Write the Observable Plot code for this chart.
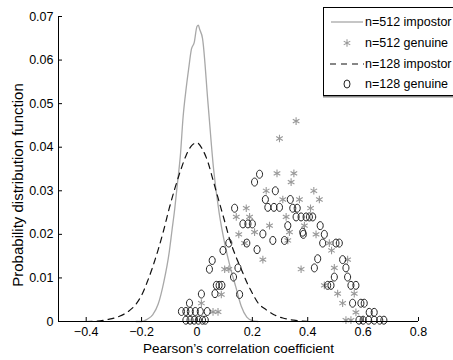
<!DOCTYPE html>
<html>
<head>
<meta charset="utf-8">
<script src="https://cdn.jsdelivr.net/npm/d3@7"></script>
<script src="https://cdn.jsdelivr.net/npm/@observablehq/plot@0.6"></script>
<style>
  html, body { margin: 0; padding: 0; background: #fff; }
  #wrap { position: relative; width: 453px; height: 360px; overflow: hidden; font-family: "Liberation Sans", Arial, Helvetica, sans-serif; }
  #legend { position: absolute; left: 323px; top: 7px; width: 150px; height: 89px; border: 1px solid #000; box-shadow: 0 1.5px 0 #888; background: #fff; box-sizing: border-box; }
  .row { position: absolute; left: 0; height: 18px; display: flex; align-items: center; font-size: 12.5px; color: #000; white-space: nowrap; }
  .row svg { width: 34px; height: 18px; margin-left: 6px; margin-right: 1px; }
</style>
</head>
<body>
<div id="wrap">
  <div id="chart"></div>
  <div id="legend"></div>
</div>
<script>
// ---- data ----
const imp512x = [-0.22,-0.20,-0.18,-0.16,-0.14,-0.12,-0.10,-0.09,-0.08,-0.07,-0.06,-0.05,-0.04,-0.03,-0.02,-0.01,0,0.005,0.01,0.02,0.04,0.06,0.08,0.10,0.12,0.14,0.16,0.18,0.20,0.22];
const imp512y = [0,0,0.0005,0.0015,0.004,0.009,0.016,0.021,0.026,0.032,0.038,0.047,0.053,0.058,0.0625,0.064,0.0677,0.068,0.067,0.065,0.050,0.035,0.025,0.018,0.0125,0.008,0.0035,0.001,0.0002,0];

const imp128x = [-0.40,-0.36,-0.32,-0.28,-0.25,-0.22,-0.20,-0.18,-0.16,-0.14,-0.12,-0.10,-0.08,-0.06,-0.04,-0.02,0,0.02,0.04,0.06,0.08,0.10,0.12,0.14,0.16,0.18,0.20,0.22,0.25,0.28,0.31,0.35,0.40];
const imp128y = [0,0.0001,0.0005,0.0012,0.0022,0.004,0.006,0.009,0.0125,0.0165,0.021,0.026,0.0305,0.0345,0.038,0.0403,0.041,0.0395,0.0365,0.032,0.0275,0.023,0.0185,0.015,0.012,0.009,0.0065,0.0043,0.0027,0.0015,0.0008,0.0003,0];

const gen512x = [0.358,0.298,0.289,0.350,0.340,0.250,0.422,0.310,0.370,0.442,0.178,0.410,0.142,0.190,0.322,0.262,0.388,0.151,0.208,0.334,0.430,0.172,0.328,0.478,0.486,0.238,0.544,0.100,0.115,0.376,0.496,0.460,0.088,0.508,0.568,0.016,0.526,0.058,0.076,0.574,0.538,0.556];
const gen512y = [0.046,0.042,0.034,0.034,0.032,0.030,0.030,0.028,0.028,0.028,0.026,0.026,0.024,0.024,0.024,0.022,0.022,0.020,0.0205,0.0205,0.020,0.018,0.0186,0.018,0.0163,0.0142,0.0142,0.012,0.012,0.012,0.0123,0.0083,0.0062,0.0064,0.0064,0.0042,0.0042,0.0022,0.0022,0.0021,0.0003,0.0003];

const gen128x = [-0.040,-0.025,-0.010,0.005,0.020,0.030,-0.056,-0.040,-0.024,-0.006,0.012,0.037,-0.027,0.016,0.065,0.154,0.070,0.080,0.090,0.132,0.045,0.148,0.055,0.094,0.217,0.115,0.180,0.166,0.184,0.200,0.238,0.274,0.316,0.382,0.136,0.256,0.278,0.298,0.346,0.362,0.247,0.337,0.283,0.208,0.226,0.358,0.376,0.394,0.406,0.418,0.328,0.445,0.384,0.460,0.454,0.502,0.514,0.436,0.526,0.424,0.538,0.496,0.544,0.472,0.484,0.556,0.574,0.562,0.592,0.604,0.622,0.640,0.585,0.600,0.620,0.640,0.660,0.675];
const gen128y = [0.0003,0.0003,0.0003,0.0003,0.0003,0.0003,0.0023,0.0023,0.0023,0.0023,0.0023,0.0023,0.0042,0.0063,0.0064,0.0062,0.0083,0.0083,0.0083,0.0102,0.012,0.0123,0.014,0.0163,0.0165,0.018,0.018,0.0224,0.0224,0.0224,0.0201,0.0186,0.0186,0.0205,0.026,0.0262,0.0262,0.0262,0.026,0.026,0.028,0.028,0.030,0.032,0.0338,0.024,0.024,0.024,0.024,0.024,0.022,0.022,0.020,0.020,0.018,0.018,0.018,0.0144,0.0142,0.0123,0.0123,0.0102,0.0102,0.0083,0.0083,0.0083,0.0083,0.0042,0.0042,0.0042,0.0021,0.0021,0.0003,0.0003,0.0003,0.0003,0.0003,0.0003];

const xTicks = [-0.4,-0.2,0,0.2,0.4,0.6,0.8];
const yTicks = [0,0.01,0.02,0.03,0.04,0.05,0.06,0.07];
const xLabel = "Pearson\u2019s correlation coefficient";
const yLabel = "Probability distribution function";
const legendLabels = ["n=512 impostor","n=512 genuine","n=128 impostor","n=128 genuine"];

// ---- build tables ----
const line512 = imp512x.map((x, i) => ({x, y: imp512y[i]}));
const line128 = imp128x.map((x, i) => ({x, y: imp128y[i]}));
const pts512 = gen512x.map((x, i) => ({x, y: gen512y[i]}));
const pts128 = gen128x.map((x, i) => ({x, y: gen128y[i]}));

const W = 453, H = 360, mL = 58, mR = 35, mT = 16, mB = 39;
const fmtX = d => d === 0 ? "0" : (d < 0 ? "\u2212" : "") + Math.abs(d).toFixed(1);
const fmtY = d => d === 0 ? "0" : d.toFixed(2);

// tall-narrow open circle (the original figure is horizontally squeezed)
const ellipse = {
  draw(ctx, size) {
    const r = Math.sqrt(size / Math.PI);
    const rx = r * 0.82, ry = r * 1.08, k = 0.5523;
    ctx.moveTo(rx, 0);
    ctx.bezierCurveTo(rx, ry * k, rx * k, ry, 0, ry);
    ctx.bezierCurveTo(-rx * k, ry, -rx, ry * k, -rx, 0);
    ctx.bezierCurveTo(-rx, -ry * k, -rx * k, -ry, 0, -ry);
    ctx.bezierCurveTo(rx * k, -ry, rx, -ry * k, rx, 0);
    ctx.closePath();
  }
};

const chart = Plot.plot({
  width: W, height: H,
  marginLeft: mL, marginRight: mR, marginTop: mT, marginBottom: mB,
  style: {fontFamily: "'Liberation Sans', Arial, Helvetica, sans-serif", fontSize: "12px", color: "#000", background: "#fff"},
  x: {domain: [-0.5, 0.8]},
  y: {domain: [0, 0.07]},
  marks: [
    Plot.line(line512, {x: "x", y: "y", stroke: "#a8a8a8", strokeWidth: 1.3, curve: "monotone-x"}),
    Plot.line(line128, {x: "x", y: "y", stroke: "#111", strokeWidth: 1.2, strokeDasharray: "6,5", curve: "monotone-x"}),
    Plot.dot(pts512, {x: "x", y: "y", symbol: "asterisk", r: 3.6, stroke: "#999", strokeWidth: 1.1}),
    Plot.dot(pts128, {x: "x", y: "y", symbol: ellipse, r: 3.7, stroke: "#222", fill: "none", strokeWidth: 1}),
    Plot.ruleY([0], {stroke: "#000", strokeWidth: 1}),
    Plot.ruleX([-0.5], {y1: 0, y2: 0.07, stroke: "#000", strokeWidth: 1}),
    Plot.tickX(xTicks, {x: d => d, stroke: "#000", insetTop: H - mT - mB - 4}),
    Plot.tickY(yTicks, {y: d => d, stroke: "#000", insetRight: W - mL - mR - 4}),
    Plot.axisX(xTicks, {tickSize: 0, tickPadding: 6, tickFormat: fmtX, label: null, fontSize: 12.5}),
    Plot.axisY(yTicks, {tickSize: 0, tickPadding: 5, tickFormat: fmtY, label: null, fontSize: 12.5}),
    Plot.text([xLabel], {text: d => d, frameAnchor: "bottom", textAnchor: "middle", lineAnchor: "middle", dy: 27, fontSize: 13.5, fill: "#000"}),
    Plot.text([yLabel], {text: d => d, frameAnchor: "left", textAnchor: "middle", lineAnchor: "middle", rotate: -90, dx: -40, dy: 16, fontSize: 15, fill: "#000"})
  ]
});
document.getElementById("chart").appendChild(chart);

// ---- legend ----
const legend = document.getElementById("legend");
const samples = [
  `<line x1="1" x2="33" y1="9" y2="9" stroke="#a8a8a8" stroke-width="1.3"/>`,
  `<path transform="translate(17,9)" d="${d3.symbol(d3.symbolAsterisk, 40)()}" stroke="#999" stroke-width="1.1" fill="none"/>`,
  `<line x1="0" x2="34" y1="9" y2="9" stroke="#111" stroke-width="1.2" stroke-dasharray="6,5"/>`,
  `<ellipse cx="17" cy="9" rx="3" ry="4" stroke="#222" fill="none"/>`
];
const rowTops = [5, 26, 47, 67];
legendLabels.forEach((lab, i) => {
  const row = document.createElement("div");
  row.className = "row";
  row.style.top = rowTops[i] + "px";
  row.innerHTML = `<svg viewBox="0 0 34 18">${samples[i]}</svg><span>${lab}</span>`;
  legend.appendChild(row);
});
</script>
</body>
</html>
